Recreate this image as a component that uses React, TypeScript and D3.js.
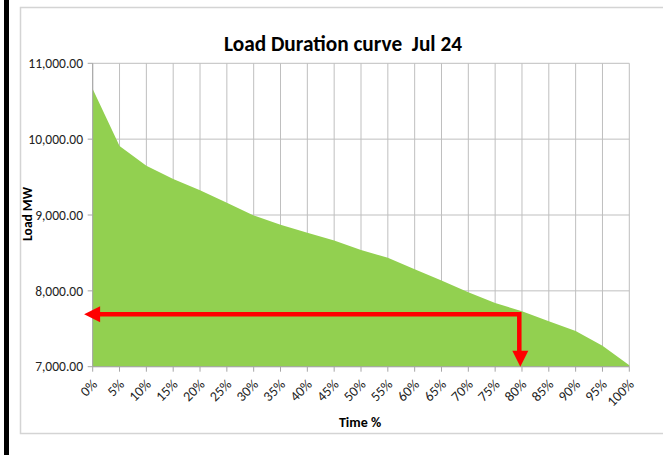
import React from "react";
import * as d3 from "d3";

const timePct = [0, 5, 10, 15, 20, 25, 30, 35, 40, 45, 50, 55, 60, 65, 70, 75, 80, 85, 90, 95, 100];
const loadMW = [10660, 9910, 9650, 9475, 9325, 9160, 8995, 8870, 8765, 8665, 8540, 8435, 8285, 8135, 7980, 7840, 7730, 7600, 7470, 7275, 7020];
const xTickLabels = ["0%", "5%", "10%", "15%", "20%", "25%", "30%", "35%", "40%", "45%", "50%", "55%", "60%", "65%", "70%", "75%", "80%", "85%", "90%", "95%", "100%"];
const yTicks = [7000, 8000, 9000, 10000, 11000];
const arrowLevel = 7690;
const arrowTime = 79.5;
const arrowEndTime = -1.6;

const W = 663;
const H = 455;

export default function App() {
  const x = d3.scaleLinear().domain([0, 100]).range([92.7, 629.3]);
  const y = d3.scaleLinear().domain([7000, 11000]).range([366.7, 63.3]);
  const fmt = d3.format(",.2f");

  const data = timePct.map((t, i) => ({ t, v: loadMW[i] }));
  const area = d3
    .area<{ t: number; v: number }>()
    .x((d) => x(d.t))
    .y0(y(7000))
    .y1((d) => y(d.v));

  const font = "Carlito, Calibri, 'Liberation Sans Narrow', 'Liberation Sans', Arial, sans-serif";

  const xa = x(arrowTime);
  const ya = y(arrowLevel);
  const xTip = x(arrowEndTime);
  const yTip = y(7000);
  const headLen = 16;
  const headHalf = 8;

  return (
    <svg
      width={W}
      height={H}
      style={{ position: "absolute", left: 0, top: 0, background: "#fff" }}
      fontFamily={font}
    >
      <rect x={0} y={0} width={W} height={H} fill="#fff" />
      <rect x={4} y={0} width={5} height={H} fill="#000" />
      <rect x={20.5} y={7.5} width={660} height={426} fill="#fff" stroke="#d4d4d4" strokeWidth={1.5} />

      <text x={343} y={51} textAnchor="middle" fontSize={22} fontWeight="bold" fill="#000" textLength={238} lengthAdjust="spacingAndGlyphs" style={{ whiteSpace: "pre" }}>
        {"Load Duration curve\u00a0 Jul 24"}
      </text>

      {yTicks.map((t) => (
        <line key={"gy" + t} x1={x(0)} x2={x(100)} y1={y(t)} y2={y(t)} stroke="#bfbfbf" strokeWidth={1} />
      ))}
      {timePct.map((t) => (
        <line key={"gx" + t} x1={x(t)} x2={x(t)} y1={y(11000)} y2={y(7000)} stroke="#bfbfbf" strokeWidth={1} />
      ))}

      <path d={area(data) || ""} fill="#92D050" />

      <line x1={x(0)} x2={x(0)} y1={y(11000)} y2={y(7000)} stroke="#a6a6a6" strokeWidth={1} />
      <line x1={x(0)} x2={x(100)} y1={y(7000)} y2={y(7000)} stroke="#a6a6a6" strokeWidth={1} />
      {yTicks.map((t) => (
        <g key={"yt" + t}>
          <line x1={x(0) - 5} x2={x(0)} y1={y(t)} y2={y(t)} stroke="#a6a6a6" />
          <text x={83} y={y(t)} dy="0.35em" textAnchor="end" fontSize={13.5} fill="#222">
            {fmt(t)}
          </text>
        </g>
      ))}
      {timePct.map((t, i) => (
        <g key={"xt" + t}>
          <line x1={x(t)} x2={x(t)} y1={y(7000)} y2={y(7000) + 5} stroke="#a6a6a6" />
          <text
            transform={`translate(${x(t) + 2},${y(7000) + 15}) rotate(-45)`}
            textAnchor="end"
            dy="0.35em"
            fontSize={14}
            fill="#222"
          >
            {xTickLabels[i]}
          </text>
        </g>
      ))}

      <text x={360} y={427} textAnchor="middle" fontSize={14} fontWeight="bold" fill="#000">
        Time %
      </text>
      <text transform="translate(32,214) rotate(-90)" textAnchor="middle" fontSize={13.5} fontWeight="bold" fill="#000">
        Load MW
      </text>

      <path
        d={`M${xTip + headLen - 1},${ya} L${xa},${ya} L${xa},${yTip - headLen + 1}`}
        fill="none"
        stroke="#ff0000"
        strokeWidth={4.5}
        strokeLinejoin="miter"
      />
      <polygon
        points={`${xTip},${ya} ${xTip + headLen},${ya - headHalf} ${xTip + headLen},${ya + headHalf}`}
        fill="#ff0000"
      />
      <polygon
        points={`${xa + 1},${yTip} ${xa + 1 - headHalf},${yTip - headLen} ${xa + 1 + headHalf},${yTip - headLen}`}
        fill="#ff0000"
      />
    </svg>
  );
}
